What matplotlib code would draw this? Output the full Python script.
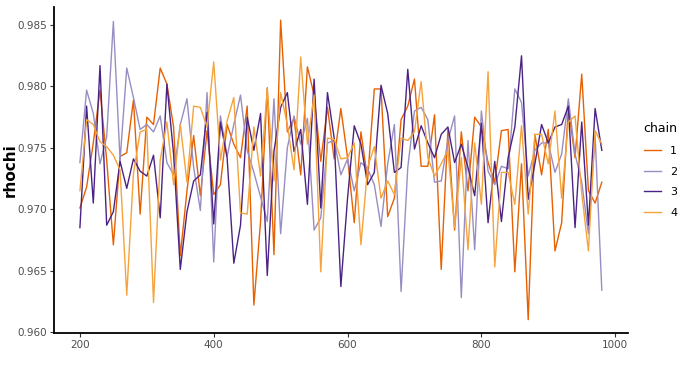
import numpy as np
import matplotlib
matplotlib.use("Agg")
import matplotlib.pyplot as plt

# iterations (thinned draws)
iteration = np.arange(200, 990, 10)

chain1 = [0.9701, 0.9718, 0.9754, 0.9797, 0.9740, 0.9671, 0.9743, 0.9746, 0.9789, 0.9696,
          0.9775, 0.9769, 0.9815, 0.9802, 0.9767, 0.9662, 0.9715, 0.9760, 0.9711, 0.9764,
          0.9712, 0.9720, 0.9769, 0.9753, 0.9742, 0.9784, 0.9622, 0.9690, 0.9799, 0.9663,
          0.9854, 0.9763, 0.9774, 0.9728, 0.9816, 0.9793, 0.9739, 0.9783, 0.9741, 0.9782,
          0.9742, 0.9689, 0.9763, 0.9724, 0.9798, 0.9798, 0.9694, 0.9709, 0.9773, 0.9784,
          0.9806, 0.9735, 0.9735, 0.9777, 0.9651, 0.9765, 0.9683, 0.9763, 0.9715, 0.9775,
          0.9767, 0.9738, 0.9722, 0.9764, 0.9765, 0.9649, 0.9737, 0.9610, 0.9761, 0.9728,
          0.9765, 0.9666, 0.9689, 0.9783, 0.9742, 0.9810, 0.9715, 0.9705, 0.9722]

chain2 = [0.9738, 0.9797, 0.9778, 0.9737, 0.9759, 0.9853, 0.9740, 0.9815, 0.9791, 0.9765,
          0.9769, 0.9763, 0.9776, 0.9738, 0.9728, 0.9769, 0.9790, 0.9734, 0.9699, 0.9795,
          0.9657, 0.9776, 0.9743, 0.9769, 0.9793, 0.9748, 0.9730, 0.9710, 0.9690, 0.9790,
          0.9680, 0.9750, 0.9776, 0.9753, 0.9774, 0.9683, 0.9693, 0.9754, 0.9756, 0.9728,
          0.9741, 0.9715, 0.9738, 0.9733, 0.9720, 0.9686, 0.9737, 0.9769, 0.9633, 0.9734,
          0.9780, 0.9783, 0.9773, 0.9722, 0.9723, 0.9756, 0.9776, 0.9628, 0.9756, 0.9667,
          0.9780, 0.9731, 0.9720, 0.9735, 0.9733, 0.9798, 0.9787, 0.9727, 0.9748, 0.9754,
          0.9754, 0.9730, 0.9745, 0.9790, 0.9745, 0.9722, 0.9680, 0.9760, 0.9634]

chain3 = [0.9685, 0.9784, 0.9705, 0.9817, 0.9687, 0.9698, 0.9739, 0.9717, 0.9741, 0.9731,
          0.9727, 0.9744, 0.9693, 0.9802, 0.9745, 0.9651, 0.9698, 0.9723, 0.9728, 0.9779,
          0.9688, 0.9771, 0.9742, 0.9656, 0.9687, 0.9775, 0.9748, 0.9778, 0.9646, 0.9747,
          0.9783, 0.9795, 0.9747, 0.9765, 0.9704, 0.9806, 0.9701, 0.9795, 0.9758, 0.9637,
          0.9709, 0.9768, 0.9753, 0.9720, 0.9730, 0.9801, 0.9778, 0.9730, 0.9734, 0.9814,
          0.9749, 0.9768, 0.9754, 0.9742, 0.9761, 0.9767, 0.9738, 0.9753, 0.9734, 0.9711,
          0.9770, 0.9689, 0.9739, 0.9690, 0.9742, 0.9767, 0.9825, 0.9708, 0.9737, 0.9769,
          0.9754, 0.9767, 0.9769, 0.9784, 0.9685, 0.9771, 0.9687, 0.9782, 0.9748]

chain4 = [0.9715, 0.9773, 0.9769, 0.9755, 0.9751, 0.9744, 0.9732, 0.9630, 0.9729, 0.9763,
          0.9765, 0.9624, 0.9740, 0.9771, 0.9720, 0.9769, 0.9722, 0.9784, 0.9783, 0.9767,
          0.9820, 0.9740, 0.9772, 0.9791, 0.9697, 0.9696, 0.9767, 0.9727, 0.9798, 0.9723,
          0.9795, 0.9769, 0.9732, 0.9824, 0.9753, 0.9793, 0.9649, 0.9758, 0.9757, 0.9741,
          0.9742, 0.9754, 0.9671, 0.9734, 0.9751, 0.9709, 0.9723, 0.9712, 0.9758, 0.9756,
          0.9763, 0.9804, 0.9742, 0.9727, 0.9737, 0.9748, 0.9685, 0.9742, 0.9667, 0.9754,
          0.9704, 0.9812, 0.9653, 0.9730, 0.9730, 0.9704, 0.9768, 0.9696, 0.9761, 0.9761,
          0.9737, 0.9780, 0.9709, 0.9771, 0.9776, 0.9713, 0.9666, 0.9764, 0.9753]

chains = ["1", "2", "3", "4"]
colors = ["#E66101", "#998EC3", "#4B2385", "#F5A33C"]

fig = plt.figure(figsize=(6.9, 3.72), dpi=100)
ax = fig.add_axes([0.078, 0.105, 0.832, 0.876])

for name, vals, c in zip(chains, [chain1, chain2, chain3, chain4], colors):
    ax.plot(iteration, vals, color=c, lw=1.0, label=name)

ax.set_xlim(161, 1019)
ax.set_ylim(0.95992, 0.98647)
ax.set_xticks([200, 400, 600, 800, 1000])
ax.set_yticks([0.960, 0.965, 0.970, 0.975, 0.980, 0.985])
ax.set_yticklabels(["0.960", "0.965", "0.970", "0.975", "0.980", "0.985"])

for s in ["top", "right"]:
    ax.spines[s].set_visible(False)
for s in ["left", "bottom"]:
    ax.spines[s].set_linewidth(1.3)
    ax.spines[s].set_color("black")
ax.tick_params(axis="both", length=3, width=0.8, color="#333333",
               labelsize=7.5, labelcolor="#4D4D4D", pad=2)

ax.set_ylabel("rhochi", fontsize=11, fontweight="bold")
ax.yaxis.set_label_coords(-0.063, 0.5)

leg = ax.legend(title="chain", loc="center left", bbox_to_anchor=(1.01, 0.5),
                frameon=False, fontsize=8, title_fontsize=9, handlelength=1.6,
                labelspacing=0.95, alignment="left")

fig.savefig("out.png", dpi=100)
